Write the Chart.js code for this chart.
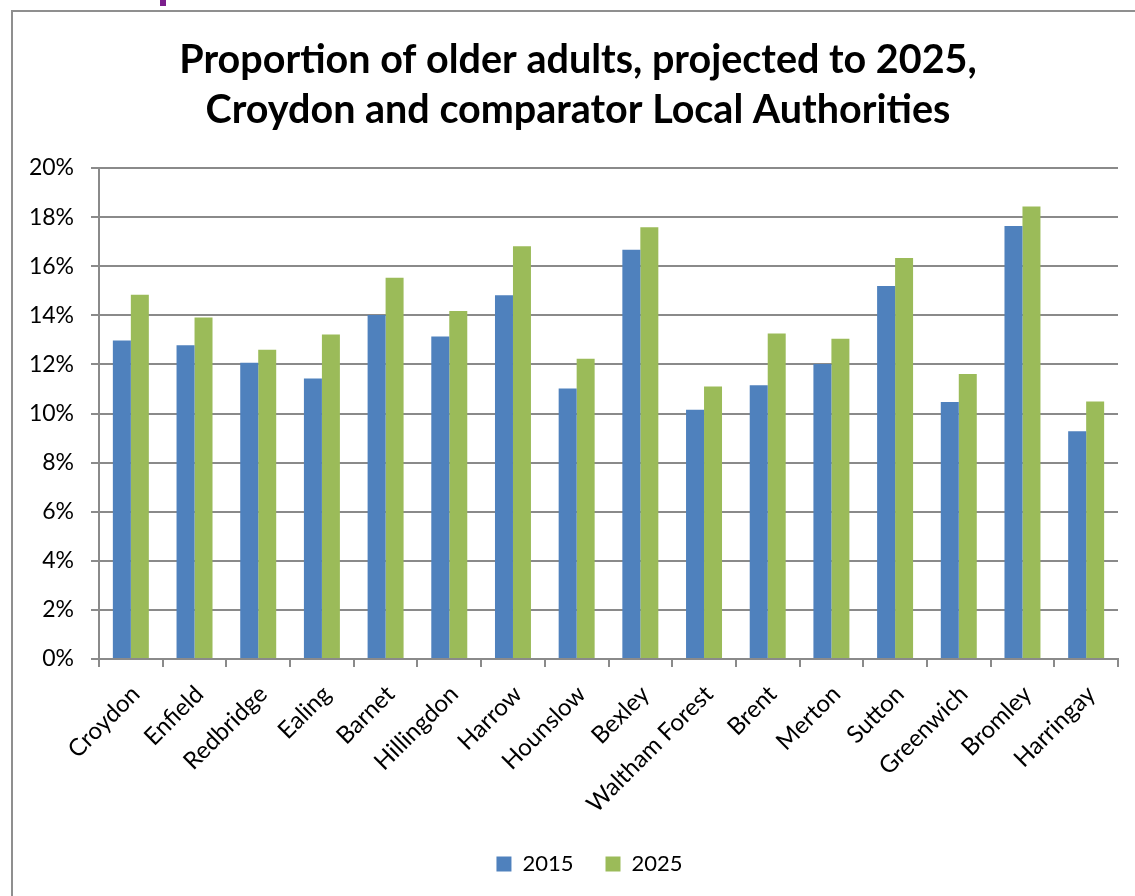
<!DOCTYPE html>
<html>
<head>
<meta charset="utf-8">
<script src="https://cdn.jsdelivr.net/npm/chart.js@4/dist/chart.umd.min.js"></script>
<style>
  body { margin: 0; background: #fff; }
  #frame {
    position: absolute; left: 11px; top: 10px;
    width: 1200px; height: 1000px;
    border: 2px solid #8f8f8f;
  }
  #tab {
    position: absolute; left: 160px; top: 0; width: 6px; height: 6px;
    background: #7b1f8c;
  }
  #grafico { position: absolute; left: 0; top: 0; }
</style>
</head>
<body>
<div id="tab"></div>
<div id="frame"></div>
<canvas id="grafico" width="1135" height="896"></canvas>
<script>
// Autoridades locais e proporção de idosos (%)
const areas = ['Croydon', 'Enfield', 'Redbridge', 'Ealing', 'Barnet', 'Hillingdon', 'Harrow', 'Hounslow',
  'Bexley', 'Waltham Forest', 'Brent', 'Merton', 'Sutton', 'Greenwich', 'Bromley', 'Harringay'];
const valores2015 = [12.97, 12.78, 12.07, 11.43, 14.01, 13.14, 14.82, 11.02,
  16.67, 10.15, 11.15, 12.02, 15.19, 10.47, 17.64, 9.28];
const valores2025 = [14.84, 13.91, 12.60, 13.22, 15.53, 14.18, 16.81, 12.23,
  17.59, 11.10, 13.26, 13.05, 16.33, 11.61, 18.43, 10.49];
const ticksY = [0, 2, 4, 6, 8, 10, 12, 14, 16, 18, 20];

const fonte = 'Lato, "Open Sans", sans-serif';
const cinza = '#8a8a8a';

// Desloca título e legenda para a direita (centralizados sobre a área útil)
const ajusteCentro = {
  id: 'ajusteCentro',
  afterLayout(chart) {
    if (chart.titleBlock) chart.titleBlock.left = 38;
    if (chart.legend) chart.legend.left = 61;
  },
};

const ctx = document.getElementById('grafico').getContext('2d');
new Chart(ctx, {
  type: 'bar',
  data: {
    labels: areas,
    datasets: [
      { label: '2015', data: valores2015, backgroundColor: '#4f81bd' },
      { label: '2025', data: valores2025, backgroundColor: '#9bbb59' },
    ],
  },
  plugins: [ajusteCentro],
  options: {
    responsive: false,
    devicePixelRatio: 1,
    animation: false,
    categoryPercentage: 0.565,
    barPercentage: 1,
    layout: { padding: { left: 0, right: 17, bottom: 11, top: 0 } },
    plugins: {
      title: {
        display: true,
        text: ['Proportion of older adults, projected to 2025,', 'Croydon and comparator Local Authorities'],
        color: '#000',
        font: { family: fonte, size: 39.5, weight: 'bold', lineHeight: 1.266 },
        padding: { top: 35, bottom: 33 },
      },
      legend: {
        position: 'bottom',
        labels: {
          color: '#000',
          font: { family: fonte, size: 22 },
          boxWidth: 15,
          boxHeight: 15,
          padding: 32,
        },
      },
      tooltip: { enabled: false },
    },
    scales: {
      x: {
        grid: { drawOnChartArea: false, drawTicks: true, tickLength: 8, color: cinza, lineWidth: 2 },
        border: { color: cinza, width: 2 },
        ticks: {
          color: '#000',
          font: { family: fonte, size: 24 },
          minRotation: 45,
          maxRotation: 45,
          autoSkip: false,
          padding: 13,
          labelOffset: 5,
        },
        afterFit: (scale) => { scale.height = 162; },
      },
      y: {
        min: 0,
        max: 20,
        afterBuildTicks: (scale) => { scale.ticks = ticksY.map(v => ({ value: v })); },
        grid: { color: cinza, lineWidth: 2, tickLength: 8 },
        border: { color: cinza, width: 2 },
        ticks: {
          color: '#000',
          font: { family: fonte, size: 23 },
          padding: 17,
          callback: (v) => v + '%',
        },
        afterFit: (scale) => { scale.width = 99; },
      },
    },
  },
});
</script>
</body>
</html>
